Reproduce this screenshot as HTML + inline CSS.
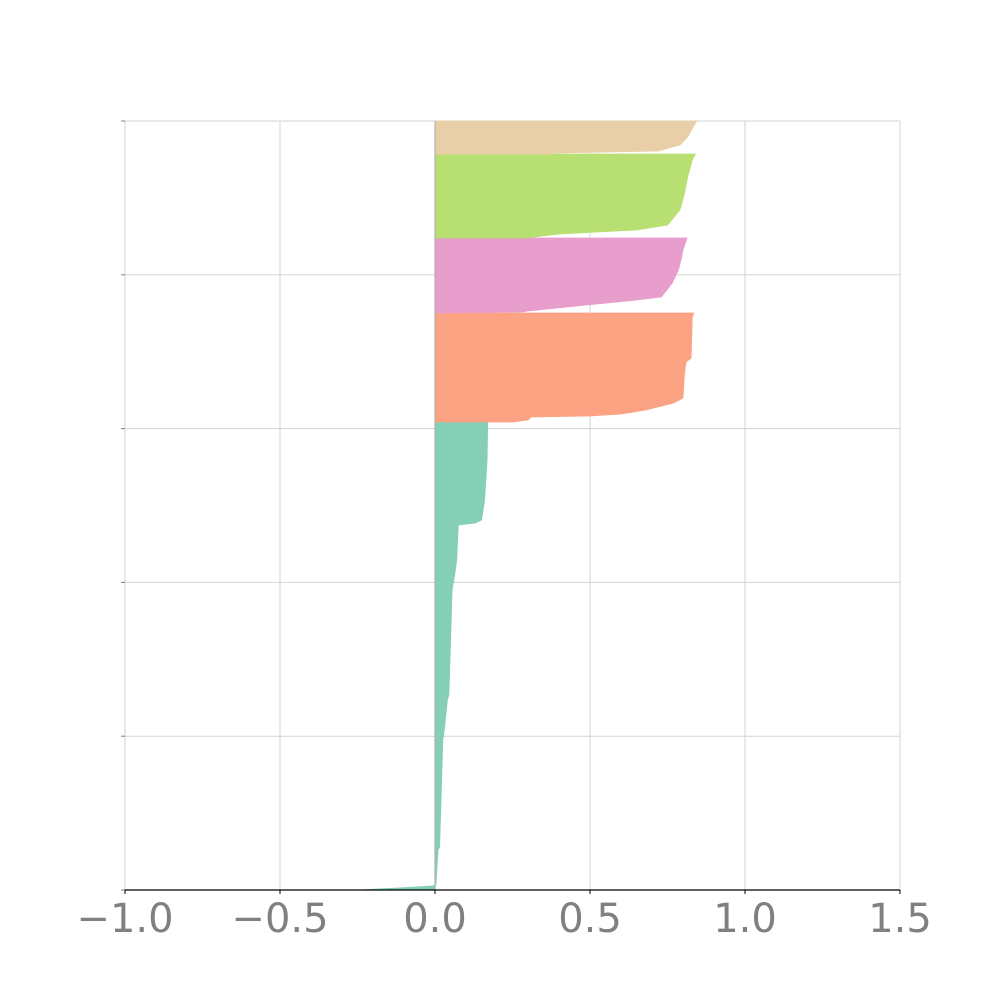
<!DOCTYPE html>
<html><head><meta charset="utf-8"><style>
html,body{margin:0;padding:0;background:#fff;}
svg{display:block;}
text{font-family:"DejaVu Sans","Liberation Sans",sans-serif;}
</style></head><body>
<svg id="chart" width="1000" height="1000" viewBox="0 0 1000 1000"></svg>
<script>
// x-axis tick values
const xTicks = [-1.0, -0.5, 0.0, 0.5, 1.0, 1.5];
const xTickLabels = ["\u22121.0", "\u22120.5", "0.0", "0.5", "1.0", "1.5"];
// cluster names, sizes (samples), colors
const clusterNames = ["cluster-0", "cluster-1", "cluster-2", "cluster-3", "cluster-4"];
const clusterSizes = [468, 109, 75, 84, 33];
const clusterColors = ["#84cfb5", "#fba383", "#e89ecd", "#b8df72", "#e9cfa8"];
// per-cluster sorted silhouette values: rank within cluster and value
const rank0 = [0, 2, 4, 5, 40, 43, 150, 160, 190, 195, 300, 318, 330, 365, 367, 370, 390, 430, 468];
const value0 = [-0.25, -0.12, -0.01, 0.003, 0.01, 0.015, 0.025, 0.03, 0.04, 0.045, 0.055, 0.065, 0.07, 0.075, 0.13, 0.15, 0.16, 0.168, 0.17];
const rank1 = [0, 2, 5, 6, 8, 12, 19, 24, 40, 49, 60, 64, 105, 109];
const value1 = [0.25, 0.3, 0.31, 0.5, 0.6, 0.68, 0.77, 0.8, 0.803, 0.805, 0.81, 0.826, 0.83, 0.835];
const rank2 = [0, 1, 2, 8, 13, 16, 30, 43, 55, 63, 75];
const value2 = [0.0, 0.28, 0.30, 0.49, 0.65, 0.73, 0.765, 0.785, 0.795, 0.80, 0.813];
const rank3 = [0, 1, 4, 8, 13, 28, 45, 61, 78, 84];
const value3 = [0.29, 0.32, 0.40, 0.65, 0.75, 0.79, 0.805, 0.815, 0.83, 0.84];
const rank4 = [0, 1, 3, 9, 17, 31, 33];
const value4 = [0.37, 0.39, 0.72, 0.79, 0.815, 0.84, 0.845];

const ranks = [rank0, rank1, rank2, rank3, rank4];
const values = [value0, value1, value2, value3, value4];

const NS = "http://www.w3.org/2000/svg";
const svg = document.getElementById("chart");
const L = 125, R = 900, T = 121, B = 890;
const xMin = -1.0, xMax = 1.5;
const total = clusterSizes.reduce((a, b) => a + b, 0);
function xs(v) { return L + (v - xMin) / (xMax - xMin) * (R - L); }
function ys(s) { return B - s / total * (B - T); }
function mk(tag, attrs) { const e = document.createElementNS(NS, tag); for (const k in attrs) e.setAttribute(k, attrs[k]); return e; }

// grid
const grid = mk("g", {});


svg.appendChild(grid);
xTicks.forEach(t => {
  const l = mk("line", { x1: xs(t), x2: xs(t), y1: T, y2: B, stroke: "#d3d3d3", "stroke-width": 1 });
  
  
  grid.appendChild(l);
});
for (let i = 0; i <= 5; i++) {
  const y = T + (B - T) * i / 5;
  const l = mk("line", { x1: L, x2: R, y1: y, y2: y, stroke: "#d3d3d3", "stroke-width": 1 });
  
  
  grid.appendChild(l);
  const tk = mk("line", { x1: L - 4, x2: L, y1: y, y2: y, stroke: "#808080", "stroke-width": 1 });
  
  
  grid.appendChild(tk);
}

// clusters
let offset = 0;
clusterSizes.forEach((size, c) => {
  const r = ranks[c], v = values[c];
  let pts = [[xs(0), ys(offset)]];
  for (let i = 0; i < r.length; i++) pts.push([xs(v[i]), ys(offset + r[i])]);
  pts.push([xs(0), ys(offset + size)]);
  const p = mk("polygon", { points: pts.map(p => p[0].toFixed(1) + "," + p[1].toFixed(1)).join(" "), fill: clusterColors[c], stroke: clusterColors[c], "stroke-width": 0.8 });
  
  
  svg.appendChild(p);
  offset += size;
});

// zero line
const zl = mk("line", { x1: xs(0), x2: xs(0), y1: T, y2: B, stroke: "#b0b0b0", "stroke-width": 1.2 });


svg.appendChild(zl);

// x axis
const ax = mk("line", { x1: L, x2: R, y1: B, y2: B, stroke: "#000", "stroke-width": 1.3 });


svg.appendChild(ax);
xTicks.forEach((t, i) => {
  const tk = mk("line", { x1: xs(t), x2: xs(t), y1: B, y2: B + 4, stroke: "#000", "stroke-width": 1 });
  
  
  svg.appendChild(tk);
  const tx = mk("text", { x: xs(t), y: 932, "text-anchor": "middle", "font-size": 40, fill: "#808080" });
  tx.textContent = xTickLabels[i];
  
  
  svg.appendChild(tx);
});
</script>
</body></html>
